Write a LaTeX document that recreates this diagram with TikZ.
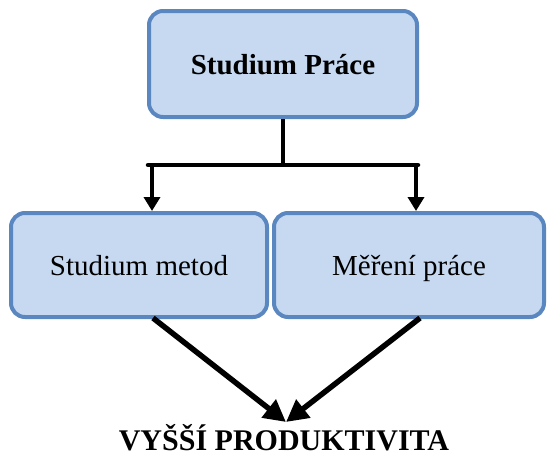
\documentclass[tikz,border=0pt]{standalone}
\usepackage{fontspec}
\setmainfont{Liberation Serif}
\usetikzlibrary{arrows.meta}
\definecolor{boxfill}{HTML}{C6D9F1}
\definecolor{boxline}{HTML}{5B87C0}
\tikzset{
  x=1pt, y=-1pt,
  box/.style={draw=boxline, fill=boxfill, line width=4pt, rounded corners=14pt, inner sep=0pt, text depth=0pt},
  link/.style={line width=4.5pt, -{Triangle[length=14pt,width=16pt]}},
  biglink/.style={line width=5.5pt, -{Triangle[length=22pt,width=22pt]}},
}
\begin{document}
\begin{tikzpicture}
\useasboundingbox (0,0) rectangle (552,459);
\node[box, minimum width=268pt, minimum height=106pt, font=\fontsize{29}{32}\selectfont\bfseries] (top) at (283,64) {Studium Práce};
\node[box, minimum width=256pt, minimum height=104pt, font=\fontsize{29}{32}\selectfont] (left) at (139,265) {Studium metod};
\node[box, minimum width=270pt, minimum height=104pt, font=\fontsize{29}{32}\selectfont] (right) at (409,265) {Měření práce};
\node[font=\fontsize{30}{34}\selectfont\bfseries, inner sep=0pt, anchor=base] (res) at (284,450) {VYŠŠÍ PRODUKTIVITA};
\coordinate (split) at (283,165);
\coordinate (goal) at (286,422);
\draw[line width=4.5pt] (top.south) -- (split);
\draw[link] ([xshift=-133pt]split) -| (left.north -| 152,0);
\draw[link] ([xshift=133pt]split) -| (right.north -| 416,0);
\draw[line width=4.5pt, line cap=round] ([xshift=-135pt]split) -- ([xshift=135pt]split);
\draw[biglink] (153,318) -- (goal);
\draw[biglink] (420,318) -- (goal);
\end{tikzpicture}
\end{document}
